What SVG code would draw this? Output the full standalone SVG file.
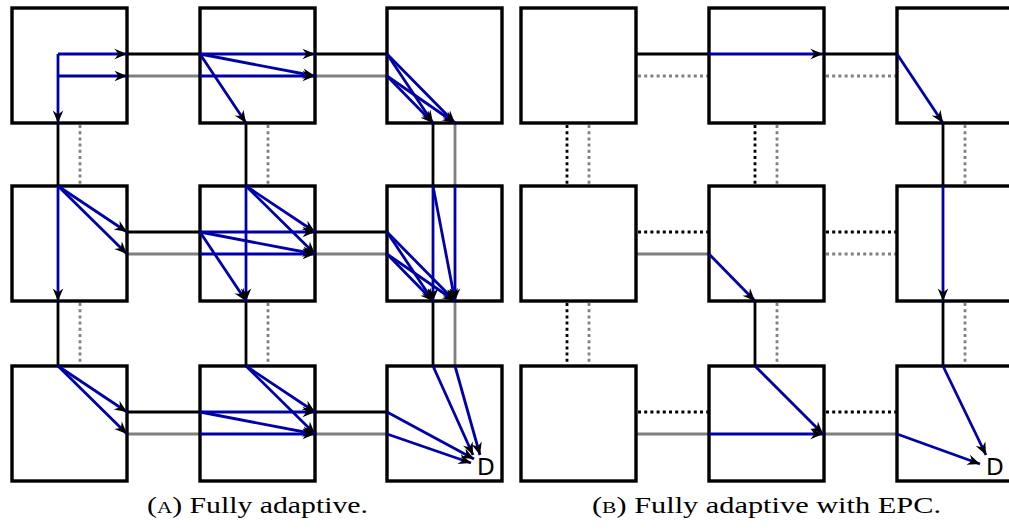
<svg xmlns="http://www.w3.org/2000/svg" width="1009" height="532" viewBox="0 0 1009 532">
  <style>
    .router { fill: #ffffff; stroke: #000000; stroke-width: 3.4; }
    .lk { fill: none; stroke: #000000; stroke-width: 2.8; }
    .lg { fill: none; stroke: #808080; stroke-width: 2.8; }
    .dot { stroke-dasharray: 3 3.2; }
    .route { fill: none; stroke: #0000a8; stroke-width: 2.8; marker-end: url(#tip); }
    .dest { font-family: "DejaVu Sans", "Liberation Sans", sans-serif; font-size: 23px; fill: #000000; }
    .cap { font-family: "Liberation Serif", "DejaVu Serif", serif; font-size: 24px; fill: #000000; }
  </style>
  <defs>
    <marker id="tip" viewBox="-14 -7 15 14" refX="0" refY="0" markerWidth="15" markerHeight="14" markerUnits="userSpaceOnUse" orient="auto">
      <path d="M0,0 L-12.5,-5.3 L-8.5,0 L-12.5,5.3 Z" fill="#000000"/>
    </marker>
  </defs>

  <!-- links: black = first virtual network, gray = second; dotted = powered-off -->
  <g id="links">
    <!-- panel A horizontals -->
    <path class="lk" d="M127,54H200 M315,54H387 M127,232H200 M315,232H387 M127,412H200 M315,412H387"/>
    <path class="lg" d="M127,76H200 M315,76H387 M127,254H200 M315,254H387 M127,434H200 M315,434H387"/>
    <!-- panel A verticals -->
    <path class="lk" d="M58,123V186 M58,301V366 M246,123V186 M246,301V366 M433,123V186 M433,301V366"/>
    <path class="lg dot" d="M80,125V186 M80,303V366 M268,125V186 M268,303V366"/>
    <path class="lg" d="M455,123V186 M455,301V366"/>

    <!-- panel B horizontals -->
    <path class="lk" d="M636,54H709 M824,54H897"/>
    <path class="lg dot" d="M638,76H709 M826,76H897"/>
    <path class="lk dot" d="M638,232H709 M826,232H897 M638,412H709 M826,412H897"/>
    <path class="lg dot" d="M826,254H897"/>
    <path class="lg" d="M636,254H709 M636,434H709 M824,434H897"/>
    <!-- panel B verticals -->
    <path class="lk dot" d="M567,125V186 M567,303V366 M755,125V186"/>
    <path class="lk" d="M943,123V186 M755,301V366 M943,301V366"/>
    <path class="lg dot" d="M589,125V186 M589,303V366 M777,125V186 M777,303V366 M965,125V186 M965,303V366"/>
  </g>

  <!-- routers, panel A -->
  <g id="a-r00"><rect class="router" x="12" y="8" width="115" height="115"/></g>
  <g id="a-r01"><rect class="router" x="200" y="8" width="115" height="115"/></g>
  <g id="a-r02"><rect class="router" x="387" y="8" width="115" height="115"/></g>
  <g id="a-r10"><rect class="router" x="12" y="186" width="115" height="115"/></g>
  <g id="a-r11"><rect class="router" x="200" y="186" width="115" height="115"/></g>
  <g id="a-r12"><rect class="router" x="387" y="186" width="115" height="115"/></g>
  <g id="a-r20"><rect class="router" x="12" y="366" width="115" height="115"/></g>
  <g id="a-r21"><rect class="router" x="200" y="366" width="115" height="115"/></g>
  <g id="a-r22"><rect class="router" x="387" y="366" width="115" height="115"/><text class="dest" x="477" y="475">D</text></g>

  <!-- routers, panel B -->
  <g id="b-r00"><rect class="router" x="521" y="8" width="115" height="115"/></g>
  <g id="b-r01"><rect class="router" x="709" y="8" width="115" height="115"/></g>
  <g id="b-r02"><rect class="router" x="897" y="8" width="115" height="115"/></g>
  <g id="b-r10"><rect class="router" x="521" y="186" width="115" height="115"/></g>
  <g id="b-r11"><rect class="router" x="709" y="186" width="115" height="115"/></g>
  <g id="b-r12"><rect class="router" x="897" y="186" width="115" height="115"/></g>
  <g id="b-r20"><rect class="router" x="521" y="366" width="115" height="115"/></g>
  <g id="b-r21"><rect class="router" x="709" y="366" width="115" height="115"/></g>
  <g id="b-r22"><rect class="router" x="897" y="366" width="115" height="115"/><text class="dest" x="986" y="475">D</text></g>

  <!-- allowed routes inside routers -->
  <g id="routes-a">
    <path class="route" d="M58,54H127"/>
    <path class="route" d="M58,76H127"/>
    <path class="route" d="M58,54V123"/>

    <path class="route" d="M200,54L315,54"/>
    <path class="route" d="M200,54L315,76"/>
    <path class="route" d="M200,54L246,123"/>
    <path class="route" d="M200,76L315,76"/>

    <path class="route" d="M387,54L433,123"/>
    <path class="route" d="M387,54L455,123"/>
    <path class="route" d="M387,76L433,123"/>
    <path class="route" d="M387,76L455,123"/>

    <path class="route" d="M58,186L127,232"/>
    <path class="route" d="M58,186L127,254"/>
    <path class="route" d="M58,186L58,301"/>

    <path class="route" d="M246,186L315,232"/>
    <path class="route" d="M246,186L315,254"/>
    <path class="route" d="M246,186L246,301"/>
    <path class="route" d="M200,232L315,232"/>
    <path class="route" d="M200,232L315,254"/>
    <path class="route" d="M200,232L246,301"/>
    <path class="route" d="M200,254L315,254"/>

    <path class="route" d="M433,186L433,301"/>
    <path class="route" d="M433,186L455,301"/>
    <path class="route" d="M455,186L455,301"/>
    <path class="route" d="M387,232L433,301"/>
    <path class="route" d="M387,232L455,301"/>
    <path class="route" d="M387,254L433,301"/>
    <path class="route" d="M387,254L455,301"/>

    <path class="route" d="M58,366L127,412"/>
    <path class="route" d="M58,366L127,434"/>

    <path class="route" d="M246,366L315,412"/>
    <path class="route" d="M246,366L315,434"/>
    <path class="route" d="M200,412L315,412"/>
    <path class="route" d="M200,412L315,434"/>
    <path class="route" d="M200,434L315,434"/>

    <path class="route" d="M433,366L473,455"/>
    <path class="route" d="M455,366L480,455"/>
    <path class="route" d="M387,412L474,459"/>
    <path class="route" d="M387,434L471,463"/>
  </g>

  <g id="routes-b">
    <path class="route" d="M709,54L823,54"/>
    <path class="route" d="M897,54L943,123"/>
    <path class="route" d="M709,254L755,301"/>
    <path class="route" d="M943,186L943,301"/>
    <path class="route" d="M755,366L823,434"/>
    <path class="route" d="M709,434L823,434"/>
    <path class="route" d="M943,366L986,455"/>
    <path class="route" d="M897,434L980,464"/>
  </g>

  <!-- captions -->
  <g id="captions">
    <text class="cap" x="147" y="513" textLength="221" lengthAdjust="spacingAndGlyphs">(<tspan font-size="17">A</tspan>) Fully adaptive.</text>
    <text class="cap" x="592" y="513" textLength="349" lengthAdjust="spacingAndGlyphs">(<tspan font-size="17">B</tspan>) Fully adaptive with EPC.</text>
  </g>
</svg>
